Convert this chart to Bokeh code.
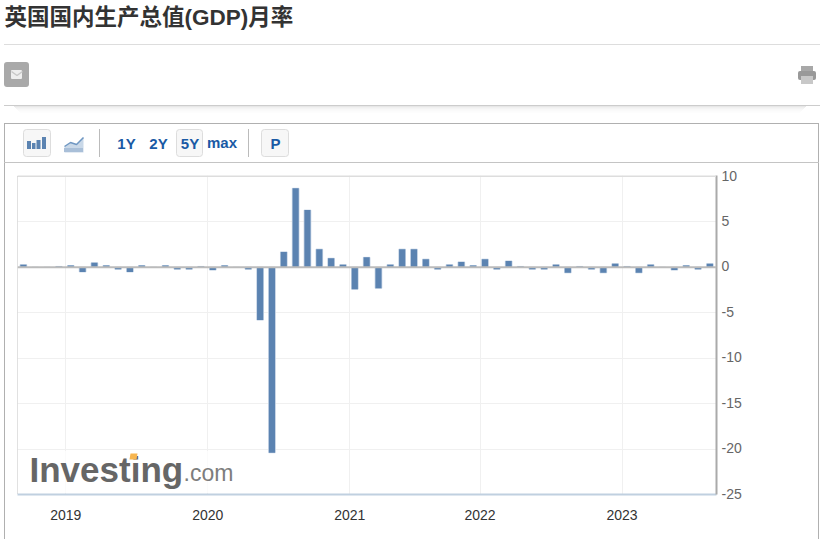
from bokeh.embed import file_html
from bokeh.resources import INLINE
from bokeh.plotting import figure
from bokeh.core.properties import value
from bokeh.models import (BoxAnnotation, ColumnDataSource, FixedTicker, Label,
                          PolyAnnotation, Range1d, Span)

title_text = "英国国内生产总值(GDP)月率"
months = [
    "2018-09", "2018-10", "2018-11", "2018-12",
    "2019-01", "2019-02", "2019-03", "2019-04", "2019-05", "2019-06",
    "2019-07", "2019-08", "2019-09", "2019-10", "2019-11", "2019-12",
    "2020-01", "2020-02", "2020-03", "2020-04", "2020-05", "2020-06",
    "2020-07", "2020-08", "2020-09", "2020-10", "2020-11", "2020-12",
    "2021-01", "2021-02", "2021-03", "2021-04", "2021-05", "2021-06",
    "2021-07", "2021-08", "2021-09", "2021-10", "2021-11",
    "2022-01", "2022-02", "2022-03", "2022-04", "2022-05", "2022-06",
    "2022-07", "2022-08", "2022-09", "2022-10", "2022-11", "2022-12",
    "2023-01", "2023-02", "2023-03", "2023-04", "2023-05", "2023-06",
    "2023-07", "2023-08",
]
gdp_mom = [
    0.3, 0.0, 0.0, 0.1,
    0.2, -0.5, 0.5, 0.2, -0.2, -0.5,
    0.2, 0.0, 0.2, -0.2, -0.2, 0.1,
    -0.3, 0.2, 0.0, -0.2, -5.8, -20.4,
    1.7, 8.7, 6.3, 2.0, 1.0, 0.3,
    -2.4, 1.1, -2.3, 0.3, 2.0, 2.0,
    0.9, -0.2, 0.3, 0.6, 0.2,
    0.9, -0.2, 0.7, 0.1, -0.2, -0.2,
    0.3, -0.6, 0.1, -0.2, -0.6, 0.4,
    0.1, -0.6, 0.3, 0.0, -0.3, 0.2,
    -0.2, 0.4,
]
year_labels = ["2019", "2020", "2021", "2022", "2023"]
y_ticks = [-25, -20, -15, -10, -5, 0, 5, 10]

AR = "Liberation Sans"
W, H = 820, 539
L, R, T, B = 17, 716, 176, 494
HP = 0.5  # the SVG canvas sits half a pixel off; filled rules are pulled back by it

x = list(range(len(months)))
year_pos = [months.index(y + "-01") - 0.42 for y in year_labels]

# ---- page furniture: a full-window figure whose data units are pixels ----
f = figure(width=W, height=H, output_backend="svg", toolbar_location=None,
           x_range=Range1d(0, W), y_range=Range1d(H, 0),
           min_border=0, outline_line_color=None,
           background_fill_color="white", border_fill_color="white")
f.axis.visible = False
f.grid.visible = False


def box(l, t, r, b, fill=None, line=None, radius=0, alpha=1.0):
    f.quad(left=l - HP, right=r - HP, top=t - HP, bottom=b - HP, fill_color=fill,
           fill_alpha=alpha if fill else 0, line_color=line,
           line_alpha=1 if line else 0, line_width=1, border_radius=radius)


def text(s, x0, y0, size, color, style="normal", font=AR, align="left"):
    f.text(x=[x0], y=[y0], text=[s], text_font=value(font),
           text_font_size=f"{size}px", text_font_style=style, text_color=color,
           text_align=align, text_baseline="middle")


text(title_text, 4, 17, 22.5, "#333333", style="bold",
     font="'Liberation Sans', 'Noto Sans CJK SC'")
box(4, 44, 820, 45, fill="#dddddd")
box(4, 62, 29, 87, fill="#a9a9a9", radius=3)
box(11, 70, 22, 79, fill="#eeeeee", radius=1)
f.line([11, 16.5, 22], [71, 75, 71], line_color="#c8c8c8", line_width=1.5)
box(801, 66, 813, 71, fill="#a8a8a8")
box(798, 71, 816, 80, fill="#999999", radius=2)
box(801, 76, 813, 84, fill="#c8c8c8")
for i, a in enumerate([0.20, 0.13, 0.09, 0.06, 0.04, 0.025, 0.015]):
    box(14 + i, 106 + i, 806 - i, 107 + i, fill="#888888", alpha=a)
box(4, 105, 820, 106, fill="#cccccc")

box(4, 123, 5, 540, fill="#b0b0b0")
box(818, 123, 819, 540, fill="#b0b0b0")
box(4, 123, 819, 124, fill="#b0b0b0")
box(4, 162, 819, 163, fill="#c4c4c4")
box(99, 129, 100, 157, fill="#bbbbbb")
box(248, 129, 249, 157, fill="#bbbbbb")

box(23.5, 129.5, 50.5, 156.5, fill="#f7f7f7", line="#dddddd", radius=3)
box(176.5, 129.5, 202.5, 156.5, fill="#f7f7f7", line="#dddddd", radius=3)
box(261.5, 129.5, 288.5, 156.5, fill="#f7f7f7", line="#dddddd", radius=3)
box(27, 141, 31, 149, fill="#5b83b1")
box(32, 143, 35.5, 149, fill="#5b83b1")
box(36.5, 140, 40.5, 149, fill="#5b83b1")
box(42, 137, 46, 149, fill="#5b83b1")
f.patch([64, 70, 76, 83, 83, 64], [146, 142, 144, 137, 152, 152],
        fill_color="#c9d8e8", line_color=None)
f.line([64, 70, 76, 83], [146, 142, 144, 137], line_color="#6f97c2", line_width=1.5)
box(64, 148, 83, 152, fill="#a9bfd8")
BLUE = "#1a5aa5"
text("1Y", 126, 143, 15, BLUE, "bold", align="center")
text("2Y", 158, 143, 15, BLUE, "bold", align="center")
text("5Y", 189.5, 143, 15, BLUE, "bold", align="center")
text("max", 221.5, 142, 15, BLUE, "bold", align="center")
text("P", 275, 143, 15, BLUE, "bold", align="center")

# ---- the chart, laid exactly over the furniture figure ----
# The y range reaches one pixel past 10 so the nudged label for 10 stays in range.
p = figure(width=W, height=H, output_backend="svg", toolbar_location=None,
           x_range=Range1d(-0.5, 58.56), y_range=Range1d(-25, 10.11),
           y_axis_location="right", x_axis_location="below",
           min_border_left=L, min_border_right=W - R, min_border_top=T - 1,
           min_border_bottom=H - B, margin=(-H, 0, 0, 0),
           background_fill_color=None, border_fill_color=None)
p.outline_line_color = None

p.xgrid.ticker = FixedTicker(ticks=year_pos)
p.ygrid.ticker = FixedTicker(ticks=y_ticks)
p.xgrid.grid_line_color = "#f0f0f0"
p.ygrid.grid_line_color = "#f0f0f0"

xa = p.xaxis[0]
xa.ticker = FixedTicker(ticks=year_pos)
xa.major_label_overrides = dict(zip(year_pos, year_labels))
xa.major_tick_line_color = None
xa.minor_tick_line_color = None
xa.major_tick_in = 0
xa.major_tick_out = 0
xa.axis_line_color = "#c0d0e0"
xa.axis_line_width = 2
xa.major_label_text_font = AR
xa.major_label_text_font_size = "14px"
xa.major_label_text_color = "#333333"
xa.major_label_standoff = 15

# Labels sit about one pixel above their grid lines in the reference.
label_ticks = [t + 0.1 for t in y_ticks]
ya = p.yaxis[0]
ya.ticker = FixedTicker(ticks=label_ticks)
ya.major_label_overrides = {lt: str(t) for lt, t in zip(label_ticks, y_ticks)}
ya.major_tick_line_color = None
ya.minor_tick_line_color = None
ya.major_tick_in = 0
ya.major_tick_out = 0
ya.axis_line_color = "#aaaaaa"
ya.axis_line_width = 2
ya.major_label_text_font = AR
ya.major_label_text_font_size = "14px"
ya.major_label_text_color = "#666666"
ya.major_label_standoff = 5

src = ColumnDataSource(dict(x=x, top=gdp_mom))
p.vbar(x="x", top="top", bottom=0, width=0.56, source=src,
       fill_color="#c3d2e4", line_color="#c3d2e4", line_width=1)
p.vbar(x="x", top="top", bottom=0, width=0.52, source=src,
       fill_color="#5b83b1", line_color=None)

p.add_layout(Span(location=0, dimension="width", line_color="#bbbbbb", line_width=2))


def canvas_box(l, t, r, b, fill, alpha=1.0):
    p.add_layout(BoxAnnotation(left=l - HP, right=r - HP, top=t - HP, bottom=b - HP,
                               left_units="canvas", right_units="canvas",
                               top_units="canvas", bottom_units="canvas",
                               fill_color=fill, fill_alpha=alpha, line_alpha=0))


def canvas_text(s, x0, y0, size, color, style="normal", font=AR):
    p.add_layout(Label(x=x0, y=y0, x_units="canvas", y_units="canvas", text=s,
                       text_font=font, text_font_size=f"{size}px",
                       text_font_style=style, text_color=color,
                       text_baseline="middle"))


# plot frame, top and left
canvas_box(L - 1, T - 1, R, T + 1, "#dddddd")
canvas_box(L - 1, T, L + 1, B, "#c4c4c4")
# watermark on a veil that dims the grid behind it
canvas_box(L + 1, 451, 245, B - 1, "#ffffff", alpha=0.7)
canvas_text("Investing", 29, 469, 35, "#666666", "bold")
canvas_text(".com", 183, 472, 23, "#7d7d7d")
p.add_layout(PolyAnnotation(xs=[130, 137, 136, 129], ys=[453, 453, 459, 459],
                            xs_units="canvas", ys_units="canvas",
                            fill_color="#f7b650", fill_alpha=1, line_alpha=0))

open("out.html", "w").write(file_html([f, p], INLINE))
